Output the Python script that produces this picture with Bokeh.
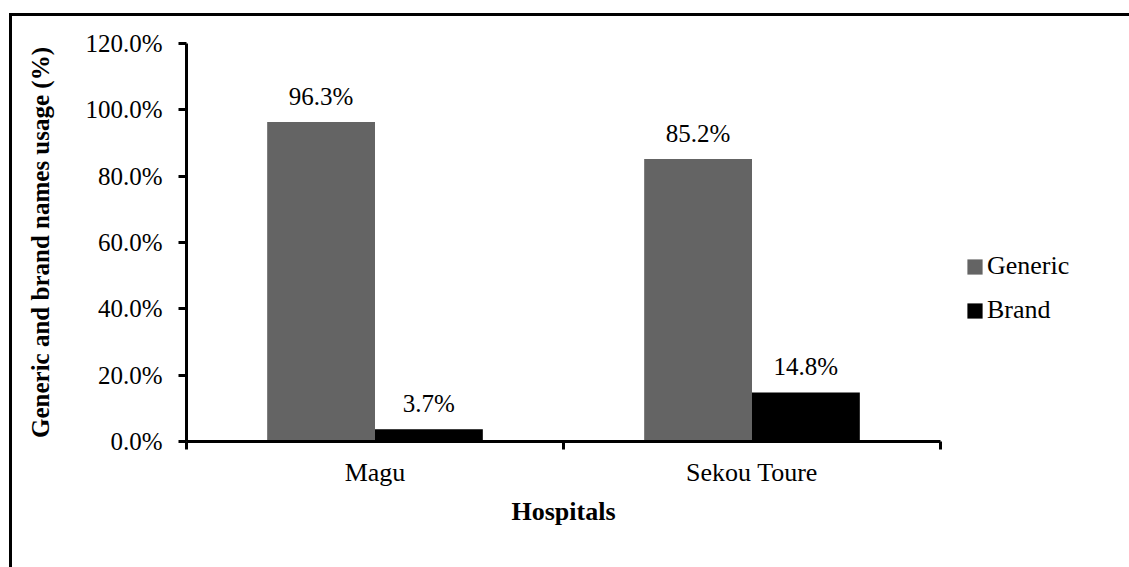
from bokeh.plotting import figure
from bokeh.models import (ColumnDataSource, Range1d, FixedTicker, PrintfTickFormatter,
                          LinearAxis, Legend, LegendItem, LabelSet, InlineStyleSheet, Title)
from bokeh.transform import dodge
from bokeh.embed import file_html
from bokeh.resources import INLINE

# ---- data ----
hospitals = ["Magu", "Sekou Toure"]
generic = [96.3, 85.2]
brand = [3.7, 14.8]
series_names = ["Generic", "Brand"]
y_ticks = [0, 20, 40, 60, 80, 100, 120]

FONT = "Liberation Serif"
FS = "25px"
GRAY = "#646464"
BW = 0.286

W, H = 1129, 567
ML, MR, MT, MB = 186, 10, 43, 126
AXIS_PX = 754  # pixel length of the category axis
n = len(hospitals)
x_end = n * (W - ML - MR) / AXIS_PX

xc = [i + 0.5 for i in range(n)]
bounds = list(range(n + 1))
src = ColumnDataSource(dict(
    x=xc, hospital=hospitals, generic=generic, brand=brand,
    generic_lbl=[f"{v:.1f}%" for v in generic],
    brand_lbl=[f"{v:.1f}%" for v in brand],
))

p = figure(width=W, height=H, output_backend="svg", toolbar_location=None,
           x_range=Range1d(0, x_end), y_range=Range1d(0, 120),
           x_axis_type=None, y_axis_type=None,
           min_border_left=ML, min_border_right=MR,
           min_border_top=MT, min_border_bottom=MB)
p.outline_line_color = None
p.xgrid.visible = False
p.ygrid.visible = False

r1 = p.vbar(x=dodge("x", -BW / 2), top="generic", width=BW, source=src,
            fill_color=GRAY, line_color=None)
r2 = p.vbar(x=dodge("x", BW / 2), top="brand", width=BW, source=src,
            fill_color="black", line_color=None)

for fld, off in (("generic", -BW / 2), ("brand", BW / 2)):
    p.add_layout(LabelSet(x=dodge("x", off), y=fld, text=fld + "_lbl", source=src,
                          text_align="center", text_baseline="alphabetic", y_offset=17,
                          text_font=FONT, text_font_size=FS, text_color="black"))

# y axis
yaxis = LinearAxis(ticker=FixedTicker(ticks=y_ticks),
                   formatter=PrintfTickFormatter(format="%.1f%%"),
                   axis_label="Generic and brand names usage (%)")
# x axis (limited to the categories)
xaxis = LinearAxis(ticker=FixedTicker(ticks=xc, minor_ticks=bounds),
                   major_label_overrides={xv: h for xv, h in zip(xc, hospitals)},
                   bounds=(0, n))
for ax in (yaxis, xaxis):
    ax.axis_line_width = 3
    ax.axis_line_color = "black"
    ax.major_tick_line_width = 3
    ax.major_tick_line_color = "black"
    ax.minor_tick_line_width = 3
    ax.minor_tick_line_color = "black"
    ax.major_label_text_font = FONT
    ax.major_label_text_color = "black"
    ax.axis_label_text_font = FONT
    ax.axis_label_text_font_style = "bold"
    ax.axis_label_text_color = "black"

yaxis.major_label_text_font_size = FS
yaxis.axis_label_text_font_size = "25px"
yaxis.major_tick_in = 0
yaxis.major_tick_out = 8
yaxis.minor_tick_out = 0
yaxis.minor_tick_in = 0
yaxis.major_label_standoff = 16
yaxis.axis_label_standoff = 28

xaxis.major_label_text_font_size = "26px"
xaxis.major_tick_in = 0
xaxis.major_tick_out = 0
xaxis.minor_tick_in = 0
xaxis.minor_tick_out = 8
xaxis.major_label_standoff = 8

p.add_layout(yaxis, "left")
p.add_layout(xaxis, "below")

xtitle = Title(text="Hospitals", align="left", offset=325, standoff=10,
               text_font=FONT, text_font_size="26px", text_font_style="bold",
               text_color="black")
p.add_layout(xtitle, "below")

legend = Legend(items=[LegendItem(label=series_names[0], renderers=[r1]),
                       LegendItem(label=series_names[1], renderers=[r2])],
                location=(779, 116), orientation="vertical",
                glyph_width=19, glyph_height=19, label_standoff=3, spacing=14,
                padding=0, margin=0, border_line_color=None, background_fill_alpha=0,
                label_text_font=FONT, label_text_font_size="26px", label_text_color="black")
p.add_layout(legend)

# outer chart border (top and left edges visible; right/bottom lie outside the view)
p.stylesheets = [InlineStyleSheet(css="""
:host::after {
  content: "";
  position: absolute;
  left: 9px; top: 13px; right: 0; bottom: 0;
  border-top: 3px solid black;
  border-left: 3px solid black;
  pointer-events: none;
  z-index: 10;
}
""")]

open("out.html", "w").write(file_html(p, INLINE))
